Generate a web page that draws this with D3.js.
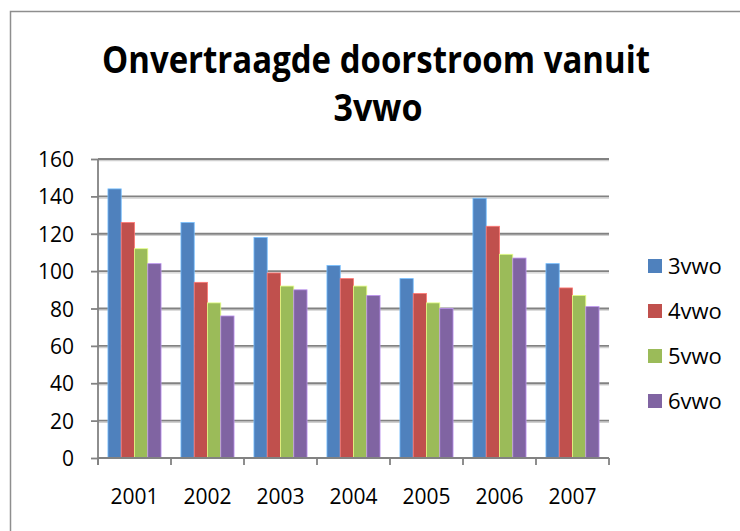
<!DOCTYPE html>
<html>
<head>
<meta charset="utf-8">
<script src="https://cdn.jsdelivr.net/npm/d3@7"></script>
<style>
  body { margin:0; background:#fff; }
  svg text { font-family:"Open Sans", "Noto Sans", sans-serif; fill:#000; }
</style>
</head>
<body>
<script>
//----------------------------------------------------------------------
// data
var years    = ["2001","2002","2003","2004","2005","2006","2007"];
var series   = ["3vwo","4vwo","5vwo","6vwo"];
var v_3vwo   = [144, 126, 118, 103,  96, 139, 104];
var v_4vwo   = [126,  94,  99,  96,  88, 124,  91];
var v_5vwo   = [112,  83,  92,  92,  83, 109,  87];
var v_6vwo   = [104,  76,  90,  87,  80, 107,  81];
var yTicks   = [0, 20, 40, 60, 80, 100, 120, 140, 160];
var colors   = ["#4F81BD","#C0504D","#9BBB59","#8064A2"];
var titleLines = ["Onvertraagde doorstroom vanuit", "3vwo"];

var allValues = [v_3vwo, v_4vwo, v_5vwo, v_6vwo];

//----------------------------------------------------------------------
var W = 740, H = 531;
var plotL = 98, plotR = 609, plotT = 159, plotB = 458;

var svg = d3.select("body").append("svg")
            .attr("width", W)
            .attr("height", H);

// chart frame (only top and left edges are in view)
svg.append("path")
   .attr("d", "M10.5," + H + " V11.5 H" + W)
   .attr("fill", "none")
   .attr("stroke", "#8e8e8e")
   .attr("stroke-width", 1.5);

var x0 = d3.scaleBand().domain(years).range([plotL, plotR]).padding(0);
var x1 = d3.scaleBand().domain(series).range([0, x0.bandwidth()])
           .paddingInner(0).paddingOuter(0.75);
var y  = d3.scaleLinear().domain([0, 160]).range([plotB, plotT]);

// gridlines with a faint shadow underneath
var grid = svg.append("g");
grid.selectAll("line.sh")
    .data(yTicks.slice(1))
    .enter().append("line")
      .attr("class", "sh")
      .attr("x1", plotL).attr("x2", plotR)
      .attr("y1", function(d){ return y(d) + 1.7; })
      .attr("y2", function(d){ return y(d) + 1.7; })
      .attr("stroke", "#d0d0d0").attr("stroke-width", 1.2);
grid.selectAll("line.gl")
    .data(yTicks.slice(1))
    .enter().append("line")
      .attr("class", "gl")
      .attr("x1", plotL).attr("x2", plotR)
      .attr("y1", function(d){ return y(d); })
      .attr("y2", function(d){ return y(d); })
      .attr("stroke", "#828282").attr("stroke-width", 1.8);

// bars
var groups = svg.selectAll("g.year")
    .data(years)
    .enter().append("g")
      .attr("class", "year")
      .attr("transform", function(d){ return "translate(" + x0(d) + ",0)"; });

groups.selectAll("rect")
    .data(function(d, i){
        return series.map(function(s, k){ return {s: s, k: k, v: allValues[k][i]}; });
    })
    .enter().append("rect")
      .attr("x", function(d){ return x1(d.s); })
      .attr("width", x1.bandwidth())
      .attr("y", function(d){ return y(d.v); })
      .attr("height", function(d){ return plotB - y(d.v); })
      .attr("fill", function(d){ return colors[d.k]; })
      .attr("stroke", function(d){ return d3.color(colors[d.k]).brighter(1.1); })
      .attr("stroke-width", 0.8);

// y axis
var yAxis = svg.append("g")
    .attr("transform", "translate(" + plotL + ",0)")
    .call(d3.axisLeft(y).tickValues(yTicks).tickSize(7).tickPadding(17));
yAxis.select(".domain").attr("stroke", "#828282").attr("stroke-width", 1.8)
     .attr("d", "M0," + plotT + "V" + (plotB + 7));
yAxis.selectAll(".tick line").attr("stroke", "#828282").attr("stroke-width", 1.8);
yAxis.selectAll(".tick text").style("font-size", "21px")
     .style("font-family", "'Open Sans', sans-serif").attr("fill", "#000")
     .attr("dy", "0.36em");

// x axis: labels centred, ticks at category boundaries
var xAxis = svg.append("g")
    .attr("transform", "translate(0," + plotB + ")")
    .call(d3.axisBottom(x0).tickSize(0));
xAxis.select(".domain").attr("stroke", "#828282").attr("stroke-width", 1.8)
     .attr("d", "M" + plotL + ",0H" + plotR);
xAxis.selectAll(".tick text").style("font-size", "21px")
     .style("font-family", "'Open Sans', sans-serif").attr("fill", "#000")
     .attr("y", 46).attr("dy", 0);
xAxis.selectAll("line.bt")
    .data(d3.range(years.length + 1))
    .enter().append("line")
      .attr("class", "bt")
      .attr("x1", function(i){ return plotL + i * x0.step(); })
      .attr("x2", function(i){ return plotL + i * x0.step(); })
      .attr("y1", 0).attr("y2", 7)
      .attr("stroke", "#828282").attr("stroke-width", 1.8);

// title, squeezed to the width seen in the picture
svg.append("text")
    .attr("x", 376).attr("y", 73)
    .attr("text-anchor", "middle")
    .attr("textLength", 548).attr("lengthAdjust", "spacingAndGlyphs")
    .style("font-weight", "bold").style("font-size", "37px")
    .text(titleLines[0]);
svg.append("text")
    .attr("x", 378).attr("y", 121)
    .attr("text-anchor", "middle")
    .attr("textLength", 89).attr("lengthAdjust", "spacingAndGlyphs")
    .style("font-weight", "bold").style("font-size", "37px")
    .text(titleLines[1]);

// legend
var leg = svg.selectAll("g.leg")
    .data(series)
    .enter().append("g")
      .attr("class", "leg")
      .attr("transform", function(d, i){ return "translate(648," + (266 + i * 45) + ")"; });
leg.append("rect")
   .attr("x", 0).attr("y", -7).attr("width", 14).attr("height", 14)
   .attr("fill", function(d, i){ return colors[i]; });
leg.append("text")
   .attr("x", 20).attr("y", 8)
   .style("font-size", "22px")
   .text(function(d){ return d; });
</script>
</body>
</html>
